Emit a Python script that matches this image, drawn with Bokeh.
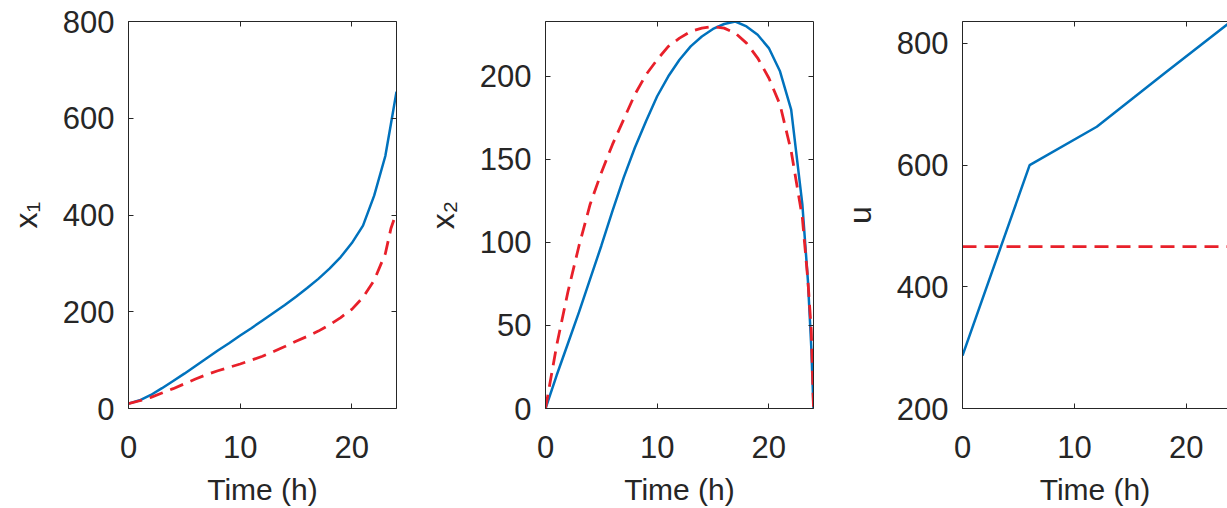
from bokeh.plotting import figure
from bokeh.layouts import row
from bokeh.models import Range1d, FixedTicker, LinearAxis, CustomLabelingPolicy
from bokeh.embed import file_html
from bokeh.resources import INLINE

# ---------------- data ----------------
t1 = [0, 1, 2, 3, 4, 5, 6, 7, 8, 9, 10, 11, 12, 13, 14, 15, 16, 17, 18, 19, 20, 21, 22, 23, 23.5, 24]
x1_opt = [10, 17, 28, 42, 57, 72, 88, 104, 120, 135, 151, 166, 182, 198, 214, 231, 249, 268, 289, 313, 342,
          378, 440, 522, 588, 655]
x1_const = [10, 16, 23, 32, 41, 51, 61, 70, 78, 85, 92, 100, 108, 118, 128, 139, 149, 160, 173, 188, 205,
            230, 265, 320, 372, 406]

t2 = [0, 1, 2, 3, 4, 5, 6, 7, 8, 9, 10, 11, 12, 13, 14, 15, 16, 17, 18, 19, 20, 21, 22, 23, 23.5, 23.8, 24]
x2_opt = [0, 20, 39, 58, 78, 98, 119, 139, 157, 173, 188, 200, 210, 218, 224, 228.5, 231.5, 233, 230, 225, 217,
          203, 180, 123, 77, 37, 0]
x2_const = [0, 38, 70, 98, 123, 142, 159, 174, 189, 201, 210, 218, 223, 227, 229, 230, 229, 226, 220, 211, 199,
            183, 155, 115, 77, 47, 0]

t3 = [0, 6, 12, 18, 24]
u_opt = [287, 600, 663, 750, 836]
t3_const = [0, 24]
u_const = [466, 466]

x_ticks = [0, 10, 20]
y1_ticks = [0, 200, 400, 600, 800]
y2_ticks = [0, 50, 100, 150, 200]
y3_ticks = [200, 400, 600, 800]

x_label = "Time (h)"
y_labels = ["x\u2081", "x\u2082", "u"]

# ---------------- style ----------------
BLUE = "#0072BD"
RED = "#e8202a"
AX = "#262626"
FONT = "Liberation Sans"
HIDE_ALL = CustomLabelingPolicy(code="return []")


def style_axis(ax, show_labels=True):
    ax.axis_line_color = AX
    ax.axis_line_width = 1
    ax.major_tick_line_color = AX
    ax.major_tick_in = 5
    ax.major_tick_out = 0
    ax.minor_tick_line_color = None
    ax.major_label_text_font = FONT
    ax.major_label_text_color = AX
    if show_labels:
        ax.major_label_text_font_size = "31px"
    else:
        ax.major_label_text_font_size = "1px"
        ax.major_label_standoff = 0
        ax.major_label_policy = HIDE_ALL
    ax.axis_label_text_font = FONT
    ax.axis_label_text_font_style = "normal"
    ax.axis_label_text_color = AX


def make_panel(width, border_right, x_end, y_start, y_end, yticks, ylabel, box_right=True):
    p = figure(width=width, height=508, output_backend="svg", toolbar_location=None,
               x_range=Range1d(0, x_end), y_range=Range1d(y_start, y_end),
               min_border_left=128, min_border_right=border_right,
               min_border_top=21, min_border_bottom=99)
    p.grid.visible = False
    p.outline_line_color = None
    p.background_fill_color = "white"
    p.border_fill_color = "white"

    p.xaxis.ticker = FixedTicker(ticks=x_ticks)
    p.yaxis.ticker = FixedTicker(ticks=yticks)
    for ax in p.xaxis:
        style_axis(ax)
        ax.major_label_standoff = 27
        ax.axis_label = x_label
        ax.axis_label_text_font_size = "30px"
        ax.axis_label_standoff = 12
    for ax in p.yaxis:
        style_axis(ax)
        ax.major_label_standoff = 14
        ax.axis_label = ylabel
        ax.axis_label_text_font_size = "32px"
        ax.axis_label_standoff = 16

    top = LinearAxis(ticker=FixedTicker(ticks=x_ticks))
    style_axis(top, show_labels=False)
    p.add_layout(top, "above")
    if box_right:
        right = LinearAxis(ticker=FixedTicker(ticks=yticks))
        style_axis(right, show_labels=False)
        p.add_layout(right, "right")
    return p


p1 = make_panel(417, 21, 24, 0, 800, y1_ticks, y_labels[0])
p1.line(t1, x1_opt, line_color=BLUE, line_width=2.5)
p1.line(t1, x1_const, line_color=RED, line_width=2.8, line_dash="14 8")

p2 = make_panel(417, 21, 24, 0, 233, y2_ticks, y_labels[1])
p2.line(t2, x2_opt, line_color=BLUE, line_width=2.5)
p2.line(t2, x2_const, line_color=RED, line_width=2.8, line_dash="14 8")

p3 = make_panel(393, 0, 23.68, 200, 836, y3_ticks, y_labels[2], box_right=False)
p3.line(t3, u_opt, line_color=BLUE, line_width=2.5)
p3.line(t3_const, u_const, line_color=RED, line_width=2.8, line_dash="14 8")

layout = row(p1, p2, p3)
open("out.html", "w").write(file_html(layout, INLINE))
